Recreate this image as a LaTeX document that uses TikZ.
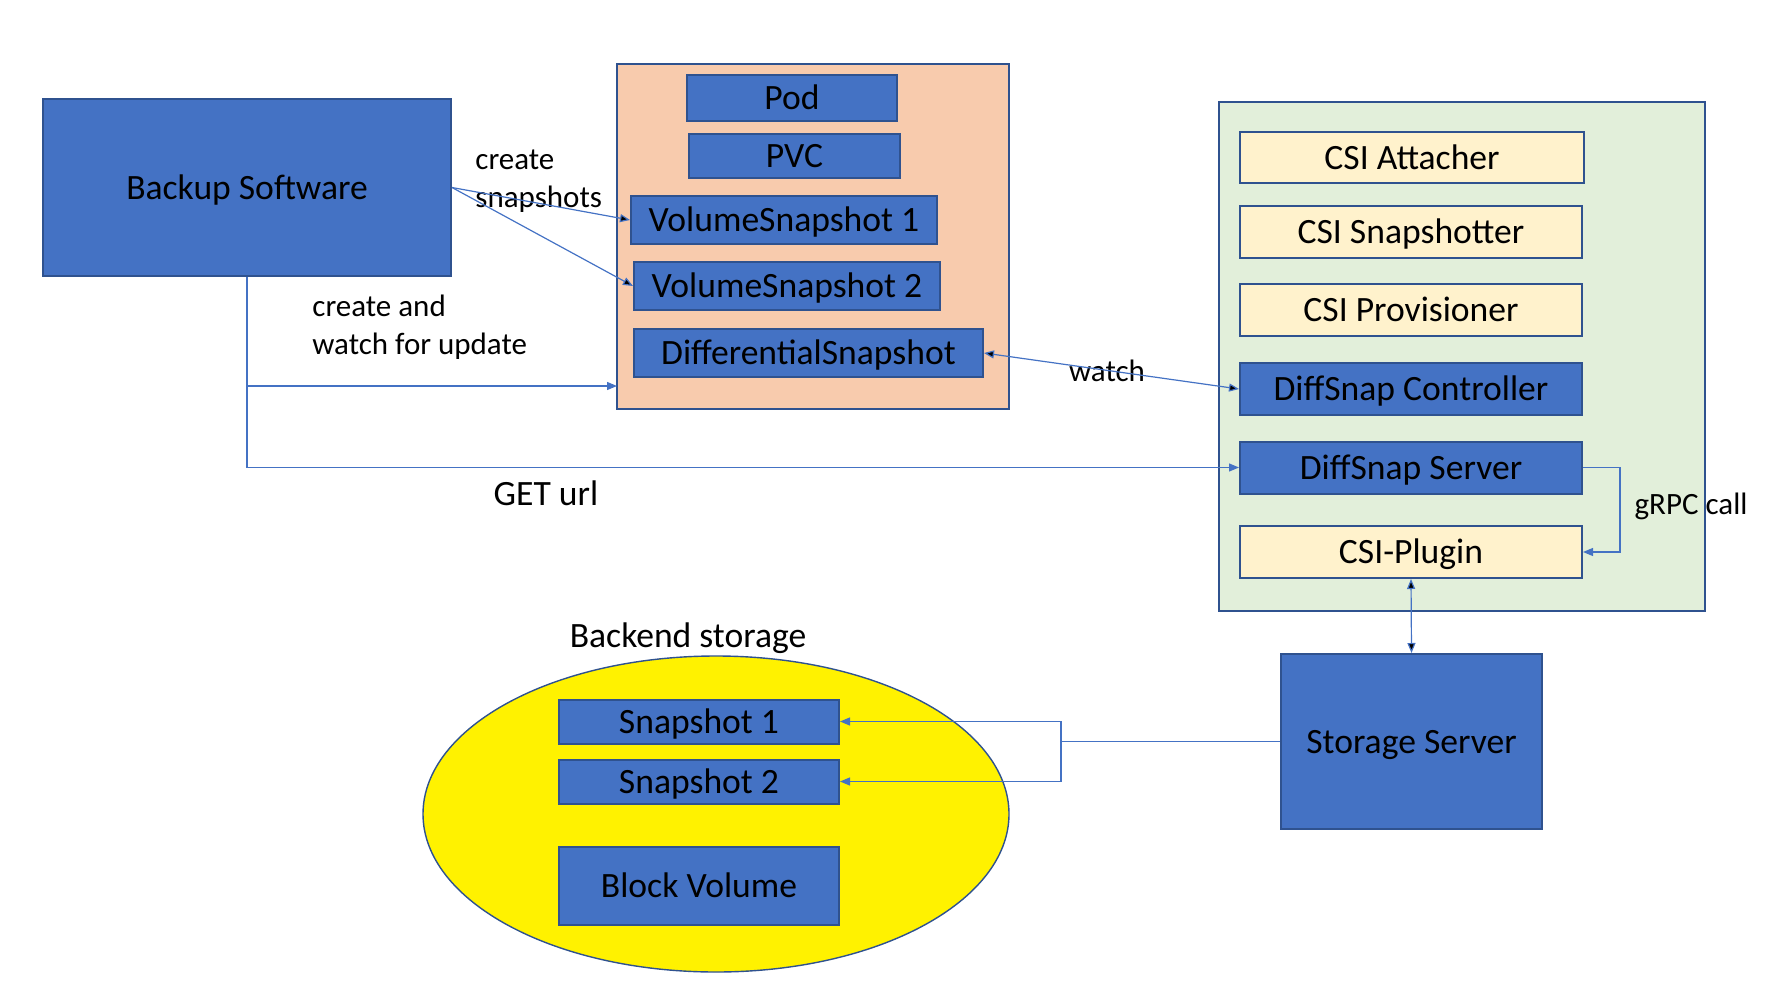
\documentclass[tikz,border=0pt]{standalone}
\usepackage{fontspec}
\setmainfont{Carlito}
\usetikzlibrary{arrows.meta,shapes.geometric}
\definecolor{boxblue}{HTML}{4472C4}
\definecolor{lineblue}{HTML}{2F528F}
\definecolor{k8sorange}{HTML}{F8CBAD}
\definecolor{csigreen}{HTML}{E2EFDA}
\definecolor{csicream}{HTML}{FFF2CC}
\begin{document}
\begin{tikzpicture}[x=0.5pt,y=-0.5pt,
  blk/.style={rectangle,draw=lineblue,line width=1pt,fill=boxblue,inner sep=0pt,
    text height=16.8pt,text depth=5.2pt,font=\fontsize{17.8}{21}\selectfont},
  sidecar/.style={blk,fill=csicream},
  lbl/.style={inner sep=0pt,align=left,font=\fontsize{15.5}{19}\selectfont},
  conn/.style={draw=boxblue,line width=0.6pt},
  >={Triangle[length=5pt,width=4pt]}]
\useasboundingbox (0,0) rectangle (1781,1000);
\node[blk,minimum width=204pt,minimum height=88.5pt] (bs) at (247,187.5) {Backup Software};
\node[blk,fill=k8sorange,minimum width=196pt,minimum height=172.5pt] (k8s) at (813,236.5) {};
\node[blk,minimum width=105pt,minimum height=23pt] (pod) at (792,98) {Pod};
\node[blk,minimum width=105.5pt,minimum height=21pt] (pvc) at (794.5,156) {PVC};
\node[blk,minimum width=153pt,minimum height=24pt] (vs1) at (784,220) {VolumeSnapshot 1};
\node[blk,minimum width=153pt,minimum height=24pt] (vs2) at (787,286) {VolumeSnapshot 2};
\node[blk,minimum width=174.5pt,minimum height=24pt] (ds) at (808.5,353) {DifferentialSnapshot};
\node[lbl,anchor=west] at (475,181) {create\\snapshots};
\node[lbl,anchor=west] at (312,327.5) {create and\\watch for update};
\node[inner sep=0pt,font=\fontsize{17.8}{21}\selectfont] at (546,493) {GET url};
\node[blk,fill=csigreen,minimum width=243pt,minimum height=254.5pt] (csi) at (1462,356.5) {};
\node[sidecar,minimum width=172pt,minimum height=25.5pt] (att) at (1412,157.5) {CSI Attacher};
\node[sidecar,minimum width=171pt,minimum height=26pt] (snp) at (1411,232) {CSI Snapshotter};
\node[sidecar,minimum width=171pt,minimum height=26pt] (prov) at (1411,310) {CSI Provisioner};
\node[blk,minimum width=171pt,minimum height=26pt] (ctrl) at (1411,389) {DiffSnap Controller};
\node[blk,minimum width=171pt,minimum height=26pt] (srv) at (1411,467.5) {DiffSnap Server};
\node[sidecar,minimum width=171pt,minimum height=26pt] (plug) at (1411,552) {CSI-Plugin};
\node[lbl] at (1107,371) {watch};
\node[lbl] at (1691,506) {gRPC call};
\node[inner sep=0pt,font=\fontsize{17.8}{21}\selectfont] at (688,638) {Backend storage};
\node[ellipse,draw=lineblue,line width=0.7pt,fill=yellow,inner sep=0pt,minimum width=293pt,minimum height=158pt] (be) at (716,814) {};
\node[blk,minimum width=140pt,minimum height=20.5pt] (s1) at (699,721.5) {Snapshot 1};
\node[blk,minimum width=140pt,minimum height=20.5pt] (s2) at (699,781.5) {Snapshot 2};
\node[blk,minimum width=140pt,minimum height=39pt] (bv) at (699,886) {Block Volume};
\node[blk,minimum width=130.5pt,minimum height=87.5pt] (ss) at (1411.5,741.5) {Storage Server};
\coordinate (k8sin) at (617,386);
\coordinate (fork) at (1061,741.5);
\path[conn]
  (bs.east) edge[->] (vs1.west)
  (bs.east) edge[->] (vs2.west)
  (ds.east) edge[<->] (ctrl.west)
  (plug.south) edge[<->] (ss.north)
;
\draw[conn,->] (bs.south) |- (k8sin);
\draw[conn,->] (bs.south) |- (srv.west);
\draw[conn,->] (srv.east) -- ++(37,0) |- (plug.east);
\draw[conn] (ss.west) -- (fork);
\draw[conn,->] (fork) |- (s1.east);
\draw[conn,->] (fork) |- (s2.east);
\end{tikzpicture}
\end{document}
